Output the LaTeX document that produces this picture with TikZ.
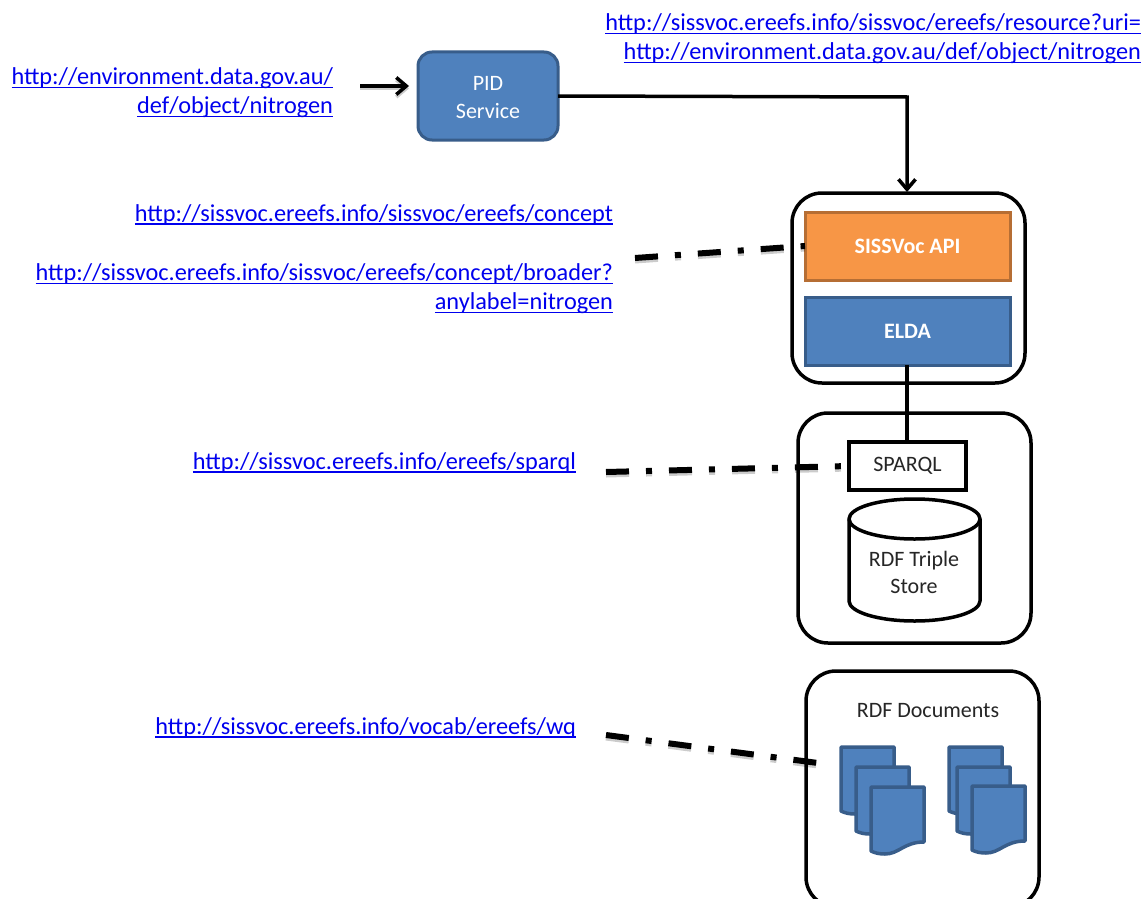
\documentclass[tikz,border=0pt]{standalone}
\usepackage{fontspec}
\setmainfont{Carlito}
\usetikzlibrary{arrows.meta}
\definecolor{linkblue}{RGB}{0,0,238}
\definecolor{boxblue}{RGB}{79,129,189}
\definecolor{boxblueline}{RGB}{56,93,138}
\definecolor{boxorange}{RGB}{247,150,70}
\definecolor{boxorangeline}{RGB}{182,110,52}
\definecolor{darktext}{RGB}{38,38,38}
\newcommand\lnk[1]{\vtop{\hbox{\smash{#1}}\kern2.2pt\hrule height 1.4pt}}
\tikzset{
  every node/.style={outer sep=0pt},
  linktext/.style={anchor=east,align=right,inner sep=0pt,text=linkblue,font=\fontsize{24.3}{29}\selectfont},
  group/.style={draw=black,line width=3.5pt,fill=white,rounded corners=30pt,anchor=north west,inner sep=0pt},
  bluebox/.style={draw=boxblueline,line width=3pt,fill=boxblue,text=white,anchor=north west,inner sep=0pt,align=center},
  orangebox/.style={draw=boxorangeline,line width=3pt,fill=boxorange,text=white,anchor=north west,inner sep=0pt,align=center},
  shadowpass/.style={opacity=.2,transform canvas={yshift=-2.5pt}},
  link/.style={draw=black,line width=3.5pt},
  dashlink/.style={draw=black,line width=6pt,dash pattern=on 23pt off 17pt on 6pt off 17pt},
  label/.style={text=darktext,font=\fontsize{22}{27}\selectfont,align=center,inner sep=0pt},
  arrowlink/.style={link,-{Straight Barb[length=10pt,width=17pt,line width=3.5pt]}},
  docsheet/.style={draw=boxblueline,line width=3.5pt,fill=boxblue,line join=round},
  storeshape/.style={draw=black,line width=3.5pt,fill=white,line join=round}
}
\newcommand\docsheet[2]{\draw[docsheet,shift={(#1,#2)}] (0,0) -- (53,0) -- (53,55) .. controls (33,55) and (28,67) .. (14,67) .. controls (8,67) and (4,66) .. (0,64) -- cycle;}
\begin{document}
\begin{tikzpicture}[x=1pt,y=-1pt]
\useasboundingbox (0,0) rectangle (1148,899);
\fill[white] (0,0) rectangle (1148,899);

% text links
\node[linktext] (top) at (1141,47) {\lnk{http://sissvoc.ereefs.info/sissvoc/ereefs/resource?uri=}\\\lnk{http://environment.data.gov.au/def/object/nitrogen}};
\node[linktext] (pidurl) at (333,101) {\lnk{http://environment.data.gov.au/}\\\lnk{def/object/nitrogen}};
\node[linktext] (concept) at (613,223) {\lnk{http://sissvoc.ereefs.info/sissvoc/ereefs/concept}};
\node[linktext] (broader) at (613,297) {\lnk{http://sissvoc.ereefs.info/sissvoc/ereefs/concept/broader?}\\\lnk{anylabel=nitrogen}};
\node[linktext] (sparqlurl) at (576,471) {\lnk{http://sissvoc.ereefs.info/ereefs/sparql}};
\node[linktext] (wqurl) at (576,736) {\lnk{http://sissvoc.ereefs.info/vocab/ereefs/wq}};

% group containers
\node[group,minimum width=233pt,minimum height=190pt] (apigroup) at (792,193) {};
\node[group,minimum width=233pt,minimum height=230pt] (storegroup) at (798,413) {};
\node[group,minimum width=233pt,minimum height=236pt] (docgroup) at (806,671) {};

% boxes
\node[bluebox,rounded corners=14pt,minimum width=140pt,minimum height=88pt,font=\fontsize{22}{28}\selectfont] (pid) at (418,52) {\rule{0pt}{17pt}PID\\Service};
\node[orangebox,minimum width=205pt,minimum height=68pt,font=\bfseries\fontsize{22}{24}\selectfont] (sissvoc) at (805,212) {SISSVoc API};
\node[bluebox,minimum width=205pt,minimum height=68pt,font=\bfseries\fontsize{22}{24}\selectfont] (elda) at (805,297) {ELDA};
\node[draw=black,line width=3.5pt,fill=white,anchor=north west,minimum width=117pt,minimum height=48pt,inner sep=0pt,label] (sparql) at (849,442) {SPARQL};

% triple store cylinder
\draw[storeshape] (849,519) .. controls (849,508) and (878,499) .. (914.5,499) .. controls (951,499) and (980,508) .. (980,519) -- (980,601) .. controls (980,612) and (951,621) .. (914.5,621) .. controls (878,621) and (849,612) .. (849,601) -- cycle;
\draw[storeshape,fill=none] (849,519) .. controls (849,530) and (878,539) .. (914.5,539) .. controls (951,539) and (980,530) .. (980,519);
\node[label] (storetext) at (914,572) {RDF Triple\\Store};
\node[label] (doctitle) at (928,711) {RDF Documents};

% documents
\docsheet{841}{747}
\docsheet{856}{767}
\docsheet{871}{787}
\docsheet{949}{747}
\docsheet{957}{767}
\docsheet{972}{786}
\coordinate (docs) at (818,763);

% connectors
\coordinate (pidin) at (360,86);
\coordinate (pidtip) at (409,86);
\coordinate (bend) at (907,97);
\coordinate (apitop) at (907,192);
\coordinate (eldabottom) at (907,365);
\coordinate (sparqltop) at (907,442);
\coordinate (d1) at (635,258);
\coordinate (d2) at (606,472);
\coordinate (d3) at (606,735);
\draw[arrowlink,shadowpass] (pidin) -- (pidtip);
\draw[arrowlink] (pidin) -- (pidtip);
\draw[arrowlink] (pid.east) -- (bend) -- (apitop);
\draw[link] (eldabottom) -- (sparqltop);
\draw[dashlink,shadowpass] (d1) -- (sissvoc.west);
\draw[dashlink] (d1) -- (sissvoc.west);
\draw[dashlink,shadowpass] (d2) -- (sparql.west);
\draw[dashlink] (d2) -- (sparql.west);
\draw[dashlink,shadowpass] (d3) -- (docs);
\draw[dashlink] (d3) -- (docs);
\end{tikzpicture}
\end{document}
